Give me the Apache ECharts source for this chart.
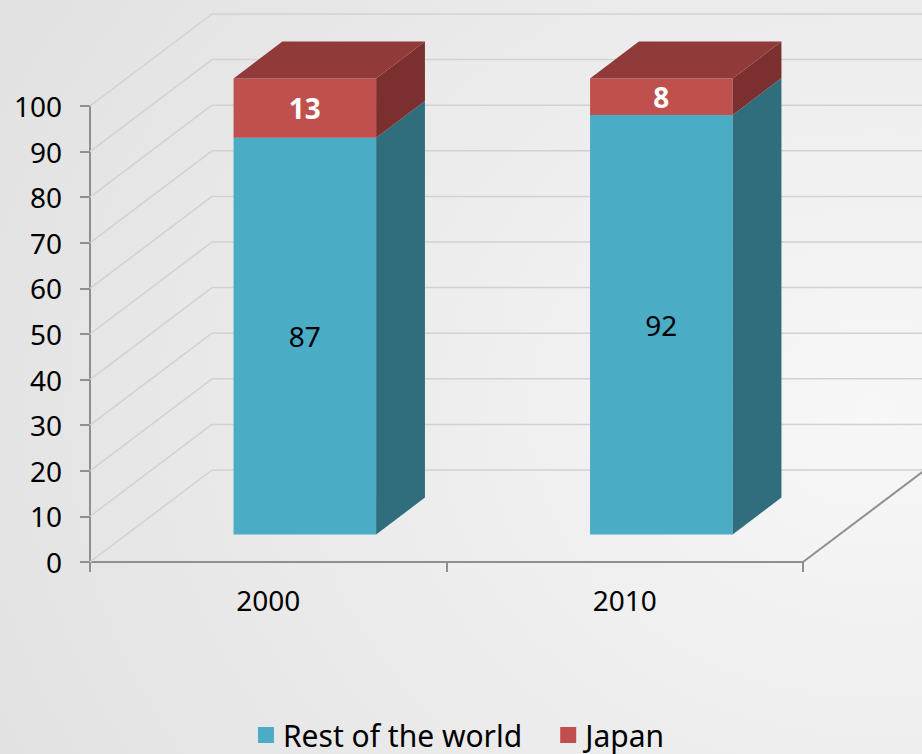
<!DOCTYPE html>
<html>
<head>
<meta charset="utf-8">
<title>Rest of the world vs Japan</title>
<script src="https://cdn.jsdelivr.net/npm/echarts@6/dist/echarts.min.js"></script>
<style>
  html, body { margin: 0; padding: 0; }
  #chart { width: 922px; height: 754px; }
</style>
</head>
<body>
<div id="chart"></div>
<script>
var categories = ['2000', '2010'];
var restOfWorld = [87, 92];
var japan = [13, 8];
var yTicks = [0, 10, 20, 30, 40, 50, 60, 70, 80, 90, 100];

// fake 3d: how far the back wall sits from the front plane
var DEPTH_X = 122;
var DEPTH_Y = -92;
var NEAR = 0.3, FAR = 0.7;   // bars sit in the middle of the depth
var BAR_RATIO = 0.4;
var FONT = '"Noto Sans", sans-serif';

var chart = echarts.init(document.getElementById('chart'), null, { renderer: 'svg' });

function renderWalls(params, api) {
  var cs = params.coordSys;
  var v = api.value(1);
  var y = api.coord([0, v])[1];
  var left = cs.x, right = cs.x + cs.width;
  var kids = [
    { type: 'line', shape: { x1: left, y1: y, x2: left + DEPTH_X, y2: y + DEPTH_Y },
      style: { stroke: '#d2d2d2', lineWidth: 1.5 } },
    { type: 'line', shape: { x1: left + DEPTH_X, y1: y + DEPTH_Y, x2: right + DEPTH_X, y2: y + DEPTH_Y },
      style: { stroke: '#d2d2d2', lineWidth: 1.5 } }
  ];
  if (v === 0) {
    kids.push({ type: 'line', shape: { x1: right, y1: y, x2: right + DEPTH_X, y2: y + DEPTH_Y },
      style: { stroke: '#8f8f8f', lineWidth: 2 } });
  }
  return { type: 'group', children: kids };
}

function makeBar(front, side, top, labelColor, labelWeight, isTop) {
  return function (params, api) {
    var cat = api.value(0), lo = api.value(1), hi = api.value(2);
    var w = api.size([1, 0])[0] * BAR_RATIO;
    var pLo = api.coord([cat, lo]);
    var pHi = api.coord([cat, hi]);
    var x0 = pLo[0] - w / 2 + DEPTH_X * NEAR;
    var yb = pLo[1] + DEPTH_Y * NEAR;
    var yt = pHi[1] + DEPTH_Y * NEAR;
    var dx = DEPTH_X * (FAR - NEAR), dy = DEPTH_Y * (FAR - NEAR);
    var kids = [
      { type: 'rect', shape: { x: x0, y: yt, width: w, height: yb - yt }, style: { fill: front } },
      { type: 'polygon', shape: { points: [[x0 + w, yb], [x0 + w + dx, yb + dy], [x0 + w + dx, yt + dy], [x0 + w, yt]] },
        style: { fill: side } }
    ];
    if (isTop) {
      kids.push({ type: 'polygon', shape: { points: [[x0, yt], [x0 + dx, yt + dy], [x0 + w + dx, yt + dy], [x0 + w, yt]] },
        style: { fill: top } });
    }
    kids.push({ type: 'text', x: x0 + w / 2, y: (yt + yb) / 2,
      style: { text: String(hi - lo), fill: labelColor, fontSize: 28, fontWeight: labelWeight,
        fontFamily: FONT, align: 'center', verticalAlign: 'middle' } });
    return { type: 'group', children: kids };
  };
}

var restData = categories.map(function (c, i) { return [i, 0, restOfWorld[i]]; });
var japanData = categories.map(function (c, i) { return [i, restOfWorld[i], restOfWorld[i] + japan[i]]; });

chart.setOption({
  backgroundColor: {
    type: 'radial', x: 0.95, y: 0.55, r: 1.1,
    colorStops: [{ offset: 0, color: '#f7f7f7' }, { offset: 1, color: '#e1e1e1' }]
  },
  textStyle: { fontFamily: FONT },
  grid: { left: 90, right: 119, top: 106, bottom: 192 },
  legend: {
    data: ['Rest of the world', 'Japan'],
    top: 720, left: 'center', padding: 0,
    icon: 'rect', itemWidth: 16, itemHeight: 16, itemGap: 38,
    textStyle: { fontSize: 30, lineHeight: 30, color: '#000', fontFamily: FONT, padding: [0, 0, 0, 4] }
  },
  xAxis: {
    type: 'category',
    data: categories,
    axisLine: { lineStyle: { color: '#8f8f8f', width: 2 } },
    axisTick: { show: true, length: 10, lineStyle: { color: '#8f8f8f', width: 2 } },
    axisLabel: { fontSize: 28, color: '#000', margin: 24, fontFamily: FONT },
    splitLine: { show: false }
  },
  yAxis: {
    type: 'value',
    min: 0, max: 100, interval: 10,
    axisLine: { show: true, lineStyle: { color: '#8f8f8f', width: 2 } },
    axisTick: { show: true, length: 10, lineStyle: { color: '#8f8f8f', width: 2 } },
    axisLabel: { fontSize: 28, color: '#000', margin: 28, fontFamily: FONT },
    splitLine: { show: false }
  },
  series: [
    {
      name: 'walls', type: 'custom', z: 1, silent: true,
      renderItem: renderWalls,
      encode: { x: 0, y: 1 },
      data: yTicks.map(function (v) { return [0, v]; })
    },
    {
      name: 'Rest of the world', type: 'custom', z: 2,
      itemStyle: { color: '#4BACC6' },
      renderItem: makeBar('#4BACC6', '#306E7D', '#3b8aa0', '#000', 'normal', false),
      encode: { x: 0, y: [1, 2] },
      data: restData
    },
    {
      name: 'Japan', type: 'custom', z: 3,
      itemStyle: { color: '#C0504D' },
      renderItem: makeBar('#C0504D', '#7B302F', '#903A39', '#fff', 'bold', true),
      encode: { x: 0, y: [1, 2] },
      data: japanData
    }
  ]
});
</script>
</body>
</html>
